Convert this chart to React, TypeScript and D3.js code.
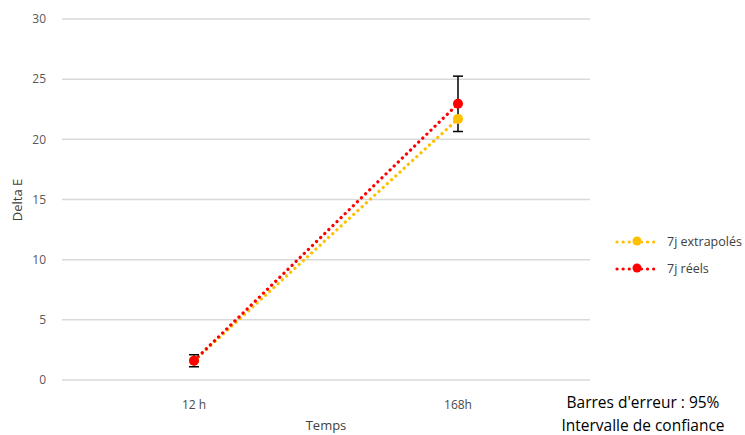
import React, { useEffect, useRef } from "react";
import * as d3 from "d3";

// data
const categories = ["12 h", "168h"];
const extrapoles = [1.6, 21.7];
const reels = [1.6, 22.95];
const reelsErr = [0.5, 2.3];
const yTicks = [0, 5, 10, 15, 20, 25, 30];
const seriesNames = ["7j extrapolés", "7j réels"];
const seriesColors = ["#FFC000", "#FF0000"];

const App = () => {
  const ref = useRef<SVGSVGElement>(null);

  useEffect(() => {
    const width = 745, height = 435;
    const margin = { top: 19, right: 155, bottom: 55, left: 62 };
    const svg = d3.select(ref.current);
    svg.selectAll("*").remove();
    svg.attr("width", width).attr("height", height);

    const font = "'Open Sans', sans-serif";

    const x = d3.scaleBand().domain(categories).range([margin.left, width - margin.right]);
    const y = d3.scaleLinear().domain([0, 30]).range([height - margin.bottom, margin.top]);
    const cx = (c: string) => (x(c) as number) + x.bandwidth() / 2;

    // gridlines
    svg.append("g")
      .selectAll("line")
      .data(yTicks)
      .join("line")
      .attr("x1", margin.left)
      .attr("x2", width - margin.right)
      .attr("y1", (d) => y(d))
      .attr("y2", (d) => y(d))
      .attr("stroke", "#d9d9d9")
      .attr("stroke-width", 1.5);

    // y tick labels
    svg.append("g")
      .selectAll("text")
      .data(yTicks)
      .join("text")
      .attr("x", 46)
      .attr("y", (d) => y(d))
      .attr("dy", "0.35em")
      .attr("text-anchor", "end")
      .style("font-family", font)
      .style("font-size", "12px")
      .attr("fill", "#595959")
      .text((d) => d);

    // x tick labels
    svg.append("g")
      .selectAll("text")
      .data(categories)
      .join("text")
      .attr("x", (d) => cx(d))
      .attr("y", 405)
      .attr("dy", "0.35em")
      .attr("text-anchor", "middle")
      .style("font-family", font)
      .style("font-size", "12px")
      .attr("fill", "#4a4a4a")
      .text((d) => d);

    // axis titles
    svg.append("text")
      .attr("x", 326)
      .attr("y", 425)
      .attr("dy", "0.35em")
      .attr("text-anchor", "middle")
      .style("font-family", font)
      .style("font-size", "13px")
      .attr("fill", "#404040")
      .text("Temps");

    svg.append("text")
      .attr("transform", "translate(17,200) rotate(-90)")
      .attr("dy", "0.35em")
      .attr("text-anchor", "middle")
      .style("font-family", font)
      .style("font-size", "13px")
      .attr("fill", "#404040")
      .text("Delta E");

    const line = d3.line<number>()
      .x((d, i) => cx(categories[i]))
      .y((d) => y(d));

    const allSeries = [extrapoles, reels];

    allSeries.forEach((vals, s) => {
      svg.append("path")
        .attr("d", line(vals))
        .attr("fill", "none")
        .attr("stroke", seriesColors[s])
        .attr("stroke-width", 3.2)
        .attr("stroke-linecap", "round")
        .attr("stroke-dasharray", "0.1 5.6");
    });

    // error bars (réels)
    const eb = svg.append("g").attr("stroke", "#000").attr("stroke-width", 1.5);
    reels.forEach((v, i) => {
      const c = cx(categories[i]);
      const lo = y(v - reelsErr[i]), hi = y(v + reelsErr[i]);
      eb.append("line").attr("x1", c).attr("x2", c).attr("y1", lo).attr("y2", hi);
      eb.append("line").attr("x1", c - 5).attr("x2", c + 5).attr("y1", lo).attr("y2", lo);
      eb.append("line").attr("x1", c - 5).attr("x2", c + 5).attr("y1", hi).attr("y2", hi);
    });

    // markers
    allSeries.forEach((vals, s) => {
      svg.append("g")
        .selectAll("circle")
        .data(vals)
        .join("circle")
        .attr("cx", (d, i) => cx(categories[i]))
        .attr("cy", (d) => y(d))
        .attr("r", 5)
        .attr("fill", seriesColors[s]);
    });

    // legend
    const leg = svg.append("g");
    seriesNames.forEach((name, s) => {
      const ly = 242 + s * 27;
      leg.append("line")
        .attr("x1", 617).attr("x2", 657)
        .attr("y1", ly).attr("y2", ly)
        .attr("stroke", seriesColors[s])
        .attr("stroke-width", 3.2)
        .attr("stroke-linecap", "round")
        .attr("stroke-dasharray", "0.1 6");
      leg.append("circle").attr("cx", 637).attr("cy", ly - 1).attr("r", 4.5).attr("fill", seriesColors[s]);
      leg.append("text")
        .attr("x", 667).attr("y", ly)
        .attr("dy", "0.35em")
        .style("font-family", font)
        .style("font-size", "12.5px")
        .attr("fill", "#404040")
        .text(name);
    });

    // note
    ["Barres d'erreur : 95%", "Intervalle de confiance"].forEach((t, i) => {
      svg.append("text")
        .attr("x", 643).attr("y", 403 + i * 23)
        .attr("dy", "0.35em")
        .attr("text-anchor", "middle")
        .style("font-family", font)
        .style("font-size", "15.5px")
        .attr("fill", "#000")
        .text(t);
    });
  }, []);

  return <svg ref={ref} style={{ position: "absolute", left: 0, top: 0 }}></svg>;
};

export default App;
